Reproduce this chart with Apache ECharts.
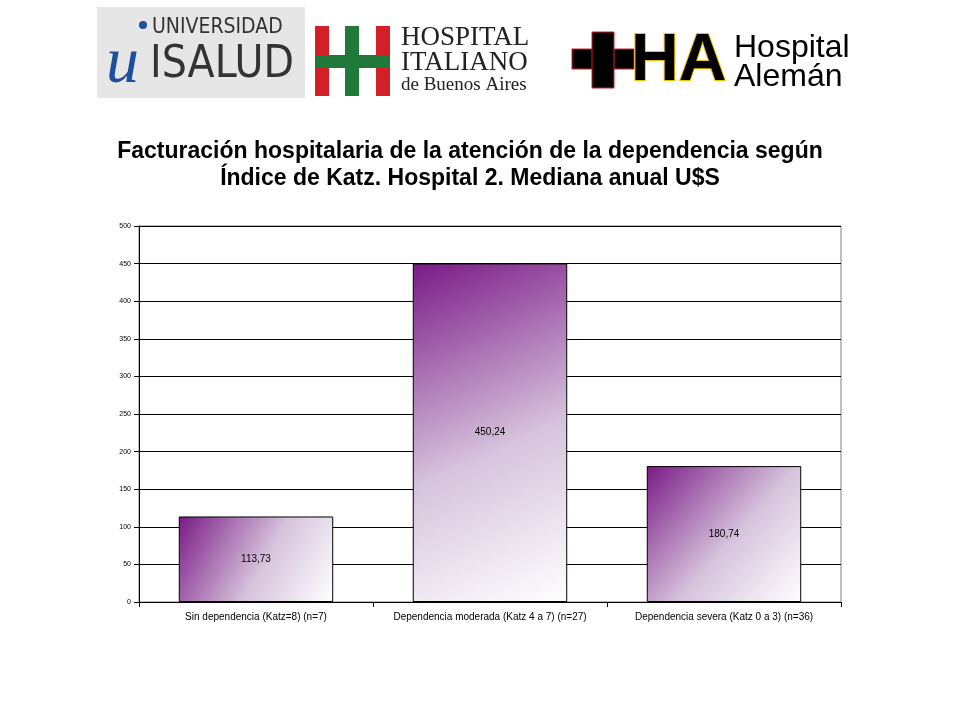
<!DOCTYPE html>
<html>
<head>
<meta charset="utf-8">
<title>Facturación hospitalaria</title>
<script src="https://cdn.jsdelivr.net/npm/echarts@6/dist/echarts.min.js"></script>
<style>body{margin:0;background:#fff}</style>
</head>
<body>
<div id="chart" style="width:960px;height:720px;"></div>
<script type="text/javascript">
var categories = ['Sin dependencia (Katz=8) (n=7)', 'Dependencia moderada (Katz 4 a 7) (n=27)', 'Dependencia severa (Katz 0 a 3) (n=36)'];
var values = [113.73, 450.24, 180.74];

var myChart = echarts.init(document.getElementById('chart'));

// degradado violeta a blanco
var barColor = new echarts.graphic.LinearGradient(0, 0, 1, 1, [
    {offset: 0, color: '#7a1a86'},
    {offset: 0.55, color: '#d6c3dc'},
    {offset: 1, color: '#ffffff'}
]);

var option = {
    animation: false,
    title: {
        text: 'Facturación hospitalaria de la atención de la dependencia según\nÍndice de Katz. Hospital 2. Mediana anual U$S',
        left: 465, top: 133, textAlign: 'center',
        textStyle: {fontFamily: 'Liberation Sans', fontSize: 23, fontWeight: 'bold', color: '#000', lineHeight: 27}
    },
    graphic: [
        // logo isalud
        {type: 'rect', shape: {x: 97, y: 7, width: 208, height: 91}, style: {fill: '#e6e6e6'}},
        {type: 'text', left: 106, top: 32, style: {text: 'u', font: 'italic 66px Liberation Serif', fill: '#1c4f9c'}},
        {type: 'circle', shape: {cx: 143, cy: 25, r: 4}, style: {fill: '#1c4f9c'}},
        {type: 'text', left: 152, top: 17, style: {text: 'UNIVERSIDAD', font: '21px DejaVu Sans Condensed', fill: '#333'}},
        {type: 'text', left: 150, top: 44, style: {text: 'ISALUD', font: '44px DejaVu Sans Condensed', fill: '#333'}},
        // logo italiano
        {type: 'rect', shape: {x: 315, y: 26, width: 14, height: 70}, style: {fill: '#d32027'}},
        {type: 'rect', shape: {x: 376, y: 26, width: 14, height: 70}, style: {fill: '#d32027'}},
        {type: 'rect', shape: {x: 345, y: 26, width: 14, height: 70}, style: {fill: '#1f7a3a'}},
        {type: 'rect', shape: {x: 315, y: 55, width: 75, height: 13}, style: {fill: '#1f7a3a'}},
        {type: 'text', left: 401, top: 24, style: {text: 'HOSPITAL\nITALIANO', font: '27px Liberation Serif', fill: '#222', lineHeight: 25}},
        {type: 'text', left: 401, top: 76, style: {text: 'de Buenos Aires', font: '19px Liberation Serif', fill: '#222'}},
        // logo aleman
        {type: 'rect', shape: {x: 572, y: 49, width: 62, height: 20}, style: {fill: '#000', stroke: '#d32027', lineWidth: 1}},
        {type: 'rect', shape: {x: 592, y: 32, width: 22, height: 56}, style: {fill: '#000', stroke: '#d32027', lineWidth: 1}},
        {type: 'text', left: 630, top: 28, style: {text: 'HA', font: 'bold 66px Liberation Sans', fill: '#000', stroke: '#f2c200', lineWidth: 2}},
        {type: 'text', left: 734, top: 32, style: {text: 'Hospital\nAlemán', font: '32px Liberation Sans', fill: '#000', lineHeight: 29}}
    ],
    grid: {left: 139, right: 119, top: 226, bottom: 118, show: true, borderColor: '#808080', borderWidth: 1},
    xAxis: {
        type: 'category',
        data: categories,
        axisLine: {lineStyle: {color: '#000'}},
        axisTick: {show: true, lineStyle: {color: '#000'}},
        axisLabel: {interval: 0, fontFamily: 'Liberation Sans', fontSize: 10, color: '#000', margin: 10}
    },
    yAxis: {
        type: 'value', min: 0, max: 500, interval: 50,
        axisLine: {show: true, lineStyle: {color: '#000'}},
        axisTick: {show: true, lineStyle: {color: '#000'}},
        axisLabel: {fontFamily: 'Liberation Sans', fontSize: 7, color: '#000'},
        splitLine: {lineStyle: {color: '#000', width: 1}}
    },
    series: [{
        type: 'bar',
        data: values,
        barWidth: '66%',
        itemStyle: {color: barColor, borderColor: '#000', borderWidth: 1},
        label: {
            show: true, position: 'inside', color: '#000', fontFamily: 'Liberation Sans', fontSize: 10,
            formatter: function (p) { return p.value.toFixed(2).replace('.', ','); }
        }
    }]
};

myChart.setOption(option);
</script>
</body>
</html>
